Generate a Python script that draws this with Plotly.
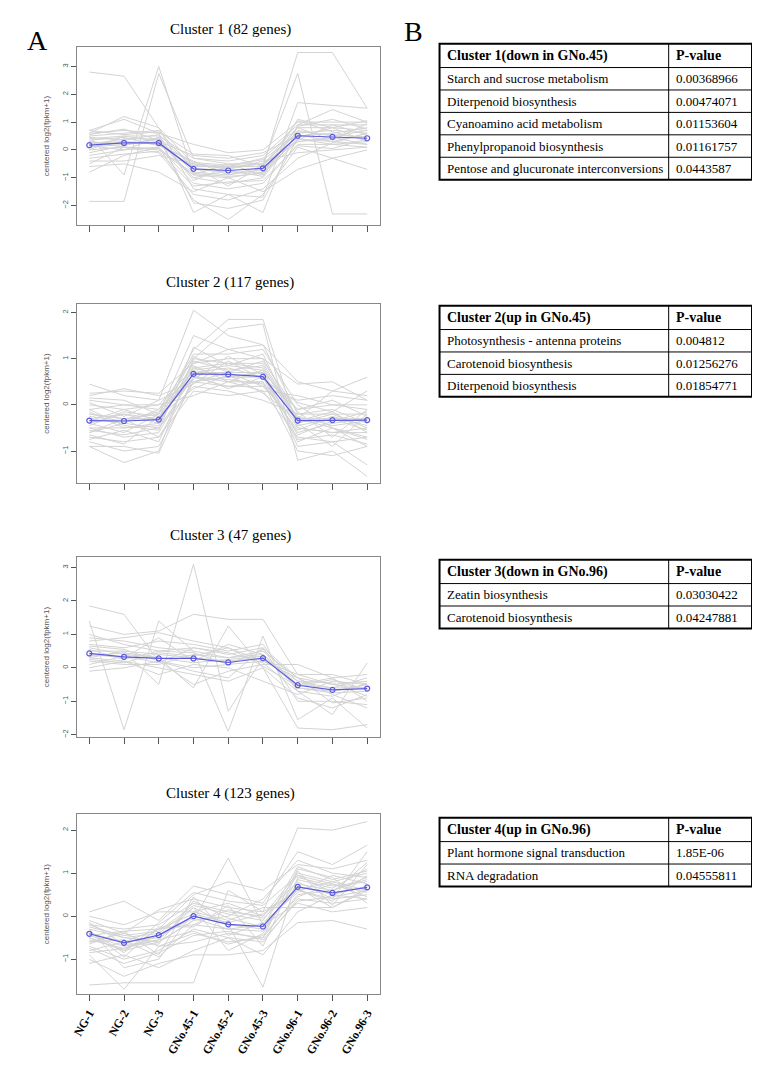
import plotly.graph_objects as go

W, H = 760, 1065
PAGE_MARGIN = 8  # default body margin of the html page

samples = ["NG-1", "NG-2", "NG-3", "GNo.45-1", "GNo.45-2", "GNo.45-3", "GNo.96-1", "GNo.96-2", "GNo.96-3"]

titles = ["Cluster 1 (82 genes)", "Cluster 2 (117 genes)", "Cluster 3 (47 genes)", "Cluster 4 (123 genes)"]

mean1 = [0.17, 0.25, 0.25, -0.68, -0.74, -0.66, 0.51, 0.47, 0.42]
mean2 = [-0.34, -0.35, -0.32, 0.67, 0.66, 0.61, -0.34, -0.33, -0.33]
mean3 = [0.43, 0.33, 0.28, 0.28, 0.16, 0.29, -0.52, -0.66, -0.62]
mean4 = [-0.41, -0.62, -0.44, 0.0, -0.19, -0.24, 0.68, 0.54, 0.67]

genes1 = [
    [2.8, 2.65, 0.8, -0.5, -0.6, -0.6, 0.8, 0.8, 0.7],
    [-1.85, -1.85, 2.75, -0.3, -0.5, -0.5, 0.3, 0.4, 0.5],
    [0.5, -0.9, 3.0, -0.9, -1.0, -0.8, 0.4, 0.3, 0.2],
    [0.3, 0.2, 0.4, -0.8, -0.9, -0.6, 3.5, 3.5, 1.5],
    [0.1, 0.3, 0.2, -0.6, -0.6, -0.5, 2.75, -2.3, -2.3],
    [0.6, 1.2, 0.8, -1.4, -1.6, -1.7, 1.7, 1.6, 1.5],
    [0.7, 1.1, 0.6, -2.25, -1.6, -2.25, 0.9, 1.45, 1.0],
    [-0.8, -0.2, 0.1, -1.8, -2.5, -1.6, 0.1, -0.3, -0.7],
    [0.0, 0.5, 0.3, -1.0, -1.2, -1.0, 0.6, 0.7, 0.6],
    [0.4, 0.5, 0.5, -0.3, -0.4, -0.2, 0.9, 0.9, 0.9],
    [-0.2, 0.0, 0.1, -1.2, -1.4, -1.2, 0.2, 0.2, 0.1],
    [0.6, 0.7, 0.6, 0.2, -0.1, 0.0, 1.0, 1.0, 1.0],
    [-0.4, -0.4, -0.2, -0.5, -0.7, -0.4, -0.1, 0.0, 0.1],
    [0.2, 0.4, 0.4, -1.9, -2.1, -1.8, 0.4, 0.2, 0.3],
    [0.5, 0.6, 0.7, -0.7, -0.8, -0.8, 0.7, 0.5, 0.7],
    [-0.6, -0.5, -0.8, -1.5, -1.0, -1.5, -0.7, -0.3, 0.0],
    [0.3, 0.1, 0.0, -0.9, -0.5, -0.9, 1.1, 0.8, 0.3],
    [0.1, 0.2, 0.3, -0.2, -0.3, -0.1, 0.5, 0.6, 0.8],
    [0.35, 0.45, 0.15, -0.4, -0.9, -0.7, 0.35, 0.9, 0.55],
    [-0.1, 0.15, 0.45, -1.1, -0.6, -0.3, 0.8, 0.35, 0.95],
    [0.45, 0.35, 0.55, -0.55, -0.65, -0.5, 0.65, 0.55, 0.45],
    [0.0, 0.1, 0.05, -0.85, -0.95, -0.85, 0.3, 0.45, 0.2],
    [0.25, 0.3, 0.2, -0.45, -0.55, -0.35, 0.55, 0.3, 0.6],
    [-0.3, -0.15, -0.05, -1.3, -1.15, -1.1, 0.15, 0.05, 0.4],
    [0.55, 0.75, 0.35, -1.0, -0.75, -0.95, 0.85, 1.1, 0.75],
    [0.15, 0.0, 0.45, -0.6, -1.3, -0.55, 0.45, 0.8, 1.05],
    [0.7, 0.55, 0.65, -0.15, -0.2, -0.6, 1.05, 0.65, 0.35],
    [-0.5, 0.1, -0.1, -1.6, -1.8, -1.4, -0.3, 0.25, 0.6],
]

genes2 = [
    [0.45, 0.2, 0.1, 2.05, 1.5, 1.3, 0.5, 0.3, 0.6],
    [-0.3, -0.2, -0.3, 1.2, 1.85, 1.85, -0.5, -0.6, -0.5],
    [-0.9, -1.25, -1.0, 1.0, 1.65, 1.75, -1.2, -1.0, -1.55],
    [-0.5, -0.5, -0.4, 0.9, 1.0, 1.0, -0.3, -0.3, -0.3],
    [-0.1, 0.0, -0.1, 0.7, 0.7, 0.7, -0.1, 0.0, 0.0],
    [0.2, 0.35, 0.2, 0.5, 0.4, 0.4, 0.1, 0.2, 0.1],
    [-0.7, -0.8, -0.7, 0.3, 0.2, 0.3, -0.7, -0.8, -0.7],
    [-0.4, -0.6, -0.2, 1.1, 1.1, 1.2, 0.0, -0.5, -0.9],
    [-0.2, -0.3, -0.3, 0.6, 0.5, 0.5, -0.6, -0.4, -0.3],
    [-0.6, -0.4, -0.5, 0.4, 0.3, 0.1, -0.2, -0.2, -0.2],
    [0.0, -0.1, 0.0, 0.8, 0.9, 0.8, -0.4, -0.2, -0.5],
    [-0.8, -1.0, -0.9, 0.5, 0.6, 0.7, -0.9, -0.8, -1.3],
    [-0.3, -0.4, -0.1, 1.0, 0.9, 0.9, -0.3, 0.3, 0.2],
    [0.1, 0.0, 0.0, 0.2, 0.5, 0.3, 0.2, 0.0, -0.1],
    [-0.5, -0.7, -0.6, 0.7, 0.8, 0.6, -0.5, -0.6, -0.6],
    [-0.9, -0.9, -1.05, 0.6, 0.4, 0.5, -1.0, -1.1, -0.9],
    [-0.2, -0.3, -0.2, 1.5, 1.2, 1.3, -0.2, -0.1, -0.4],
    [-0.4, -0.2, -0.4, 0.8, 0.6, 0.6, -0.8, -0.5, -0.7],
    [0.25, 0.3, 0.25, 0.9, 1.2, 1.0, 0.45, 0.5, 0.1],
    [-0.6, -0.3, -0.7, 0.5, 0.7, 0.4, -0.4, -0.9, -0.2],
    [-0.15, -0.5, -0.45, 0.95, 0.75, 0.85, -0.35, -0.15, -0.6],
    [-0.45, -0.15, -0.25, 0.55, 1.05, 0.65, -0.65, -0.35, -0.15],
    [-0.25, -0.35, -0.15, 0.75, 0.85, 0.75, -0.25, -0.45, -0.35],
    [-0.55, -0.65, -0.5, 0.6, 0.55, 0.45, -0.55, -0.25, -0.45],
    [-0.35, -0.1, -0.35, 1.05, 0.7, 0.95, -0.15, -0.7, -0.1],
    [0.05, -0.25, 0.1, 0.45, 0.95, 0.55, 0.05, -0.15, 0.3],
    [-0.75, -0.55, -0.8, 0.85, 0.5, 0.75, -0.75, -0.65, -0.85],
    [-0.1, -0.45, -0.55, 1.25, 0.85, 1.1, -0.45, -0.3, -0.55],
    [-0.65, -0.85, -0.25, 0.35, 0.65, 0.25, -0.3, -0.5, -0.75],
    [0.15, 0.1, -0.2, 0.65, 0.35, 0.6, -0.1, 0.1, -0.25],
]

genes3 = [
    [1.85, 1.6, 0.2, 0.0, 0.1, 0.2, -0.3, -0.8, -1.2],
    [1.4, -1.85, 1.4, 0.5, 0.3, 0.4, -0.6, -0.7, -0.5],
    [0.3, 0.5, -0.5, 3.1, -1.3, 0.3, -0.4, -0.6, -0.3],
    [1.25, 1.0, 1.1, 1.6, 1.45, 1.45, -0.2, -0.5, -0.6],
    [0.6, 0.4, 0.3, -0.6, 1.25, 0.0, -1.8, -1.85, -1.7],
    [0.9, 0.8, 0.6, 0.5, -1.9, 0.95, -1.55, -0.9, -1.8],
    [0.5, 0.5, 0.4, 0.3, 0.2, 0.3, -0.5, -0.6, -0.6],
    [0.2, 0.1, 0.1, 0.4, 0.3, 0.5, -0.3, -0.5, -0.4],
    [0.7, 0.6, 0.8, 0.7, 0.5, 0.7, -0.7, -1.4, 0.15],
    [-0.1, 0.0, 0.2, -0.5, -0.1, 0.1, 0.1, -0.3, -1.0],
    [1.0, 0.7, 0.5, 0.6, 0.4, 0.6, -1.0, -1.0, -1.1],
    [0.0, 0.2, -0.2, 0.1, 0.0, -0.4, -0.8, -0.4, -0.5],
    [0.4, 0.3, 0.9, 0.2, 0.7, 0.4, -0.5, -0.3, -0.2],
    [0.3, 0.2, 0.0, -0.2, -0.4, 0.0, -0.9, -1.2, -0.8],
    [0.8, 0.9, 1.05, 0.8, 0.6, 0.2, -0.2, -0.2, -0.5],
    [0.35, 0.45, 0.3, 0.15, 0.25, 0.35, -0.6, -0.75, -0.7],
    [0.55, 0.25, 0.5, 0.45, 0.1, 0.55, -0.4, -0.45, -0.85],
    [0.1, 0.35, 0.15, 0.6, 0.45, 0.15, -0.7, -0.85, -0.45],
    [0.65, 0.55, 0.2, -0.1, -0.3, 0.6, -0.3, -1.05, -0.9],
    [0.25, 0.15, 0.45, 0.35, 0.6, 0.05, -0.55, -0.35, -0.65],
]

genes4 = [
    [-1.6, -1.55, -1.55, -1.55, 0.6, 0.1, 2.05, 2.0, 2.2],
    [-0.5, -0.8, -0.6, -0.1, 1.35, -0.2, 0.6, 0.4, 0.5],
    [-0.3, -0.5, -0.4, 0.2, -0.2, -1.65, 0.9, 0.7, 0.8],
    [0.1, 0.35, -0.1, 0.7, 0.5, 0.3, 1.5, 1.2, 1.65],
    [-1.0, -1.4, -1.1, -0.9, -0.9, -0.8, -0.15, -0.1, -0.3],
    [-0.4, -0.6, -0.5, 0.0, -0.2, -0.3, 0.7, 0.5, 0.7],
    [-0.2, -0.3, -0.2, 0.3, 0.1, 0.0, 1.0, 0.8, 1.0],
    [-0.7, -1.0, -0.8, -0.3, -0.5, -0.6, 0.4, 0.3, 0.4],
    [-0.5, -0.8, -0.3, 0.5, 0.8, 0.6, 1.2, 1.1, 1.3],
    [0.0, -0.2, 0.1, 0.1, -0.1, 0.2, 0.2, 0.2, 0.6],
    [-0.9, -1.7, -0.7, -0.4, -0.6, -0.5, 0.5, 0.6, 0.9],
    [-0.6, -0.4, -0.7, -0.6, -0.4, -0.5, 1.1, 0.9, 0.3],
    [-0.3, -1.2, -1.0, 0.1, 0.3, 0.0, 0.8, 0.4, 1.5],
    [-0.8, -0.6, -0.3, -0.2, -0.3, -0.2, 0.3, 0.1, 0.2],
    [-0.1, -0.4, 0.15, 0.4, 0.2, 0.1, 0.6, 0.8, 0.6],
    [-0.45, -0.7, -0.55, 0.2, -0.8, -0.4, 0.85, 0.65, 1.1],
    [-1.1, -0.9, -1.2, -0.8, -0.5, -0.9, 0.1, 0.5, 0.4],
    [-0.2, -0.5, -0.6, -0.1, 0.0, 0.4, 1.3, 1.0, 0.9],
    [-0.65, -0.35, -0.9, 0.45, -0.45, -0.15, 0.55, 0.95, 0.75],
    [-0.35, -0.95, -0.25, -0.25, 0.25, -0.7, 1.05, 0.25, 1.2],
    [-0.55, -0.75, -0.45, -0.05, -0.3, -0.35, 0.75, 0.6, 0.85],
    [-0.25, -0.45, -0.35, 0.25, 0.05, -0.1, 0.95, 0.75, 0.55],
    [-0.75, -1.1, -0.85, -0.45, -0.35, -0.55, 0.35, 0.45, 0.6],
    [-0.45, -0.35, -0.3, 0.05, -0.15, 0.05, 0.6, 0.35, 0.95],
    [-0.15, -0.65, -0.65, 0.35, -0.05, -0.25, 1.15, 0.85, 1.05],
    [-0.85, -0.75, -0.55, -0.35, -0.65, -0.45, 0.45, 0.75, 0.45],
    [-0.35, -0.85, -0.15, 0.55, 0.35, 0.25, 0.95, 0.55, 1.25],
    [-0.6, -0.55, -0.95, -0.2, 0.15, -0.05, 0.65, 0.2, 0.65],
]

table_headers = [
    ["Cluster 1(down in GNo.45)", "P-value"],
    ["Cluster 2(up in GNo.45)", "P-value"],
    ["Cluster 3(down in GNo.96)", "P-value"],
    ["Cluster 4(up in GNo.96)", "P-value"],
]
pathways1 = ["Starch and sucrose metabolism", "Diterpenoid biosynthesis", "Cyanoamino acid metabolism",
             "Phenylpropanoid biosynthesis", "Pentose and glucuronate interconversions"]
pvals1 = ["0.00368966", "0.00474071", "0.01153604", "0.01161757", "0.0443587"]
pathways2 = ["Photosynthesis - antenna proteins", "Carotenoid biosynthesis", "Diterpenoid biosynthesis"]
pvals2 = ["0.004812", "0.01256276", "0.01854771"]
pathways3 = ["Zeatin biosynthesis", "Carotenoid biosynthesis"]
pvals3 = ["0.03030422", "0.04247881"]
pathways4 = ["Plant hormone signal transduction", "RNA degradation"]
pvals4 = ["1.85E-06", "0.04555811"]

means = [mean1, mean2, mean3, mean4]
genes = [genes1, genes2, genes3, genes4]
pathways = [pathways1, pathways2, pathways3, pathways4]
pvals = [pvals1, pvals2, pvals3, pvals4]

# ---- layout geometry (screen pixels) ----
frames = [(47, 227), (306, 487), (561, 743), (820, 1002)]
yranges = [(-2.71, 3.71), (-1.70, 2.19), (-2.08, 3.32), (-1.82, 2.38)]
ytickvals = [[-2, -1, 0, 1, 2, 3], [-1, 0, 1, 2], [-2, -1, 0, 1, 2, 3], [-1, 0, 1, 2]]
title_y = [30, 285, 540, 800]
table_tops = [44, 308, 564, 824]
X0, X1 = 72, 377
TX0, TXS, TX1 = 437, 668, 752
HEAD = 24
ROW = 22.6

FW, FH = W - 2 * PAGE_MARGIN, H - 2 * PAGE_MARGIN

def fx(px):
    return (px - PAGE_MARGIN) / FW

def fy(py):
    return 1 - (py - PAGE_MARGIN) / FH

SERIF = "Liberation Serif, Times New Roman, serif"
SANS = "Liberation Sans, Arial, sans-serif"
GRAY = "#d3d3d3"
BLUE = "#5a5ae0"

fig = go.Figure()
layout = dict(width=FW, height=FH, margin=dict(l=0, r=0, t=0, b=0),
              paper_bgcolor="white", plot_bgcolor="white", showlegend=False)
annotations = []
shapes = []
xs = list(range(1, 10))

for i in range(4):
    k = "" if i == 0 else str(i + 1)
    xa, ya = "x" + k, "y" + k
    for g in genes[i]:
        fig.add_trace(go.Scatter(x=xs, y=g, mode="lines", xaxis=xa, yaxis=ya,
                                 line=dict(color=GRAY, width=1), hoverinfo="skip"))
    fig.add_trace(go.Scatter(x=xs, y=means[i], mode="lines+markers", xaxis=xa, yaxis=ya,
                             line=dict(color=BLUE, width=1.2),
                             marker=dict(symbol="circle-open", size=5, color=BLUE, line=dict(width=1.2))))
    top, bot = frames[i]
    layout["xaxis" + k] = dict(domain=[fx(X0), fx(X1)], range=[0.66, 9.37], anchor=ya,
                               tickmode="array", tickvals=xs, ticktext=samples,
                               showticklabels=(i == 3), tickangle=-60,
                               tickfont=dict(family=SERIF, size=12, color="black", weight="bold"),
                               ticks="outside", ticklen=6, tickcolor="#555", tickwidth=1,
                               showline=True, linecolor="#888", linewidth=1, mirror=True,
                               showgrid=False, zeroline=False, fixedrange=True)
    layout["yaxis" + k] = dict(domain=[fy(bot), fy(top)], range=list(yranges[i]), anchor=xa,
                               tickmode="array", tickvals=ytickvals[i], tickangle=-90,
                               tickfont=dict(family=SANS, size=7.5, color="#555"),
                               ticks="outside", ticklen=5, tickcolor="#555", tickwidth=1,
                               showline=True, linecolor="#888", linewidth=1, mirror=True,
                               showgrid=False, zeroline=False,
                               title=dict(text="centered log2(fpkm+1)", standoff=10,
                                          font=dict(family=SANS, size=8, color="#555")))
    annotations.append(dict(text=titles[i], x=fx(226), y=fy(title_y[i]), xref="paper", yref="paper",
                            showarrow=False, xanchor="center", yanchor="middle",
                            font=dict(family=SERIF, size=15, color="black")))

    # ---- enrichment table drawn with shapes and text ----
    t0 = table_tops[i]
    n = len(pathways[i])
    t1 = t0 + HEAD + n * ROW
    bounds = [t0 + HEAD + r * ROW for r in range(n)]
    for yb in bounds:
        shapes.append(dict(type="line", xref="paper", yref="paper", x0=fx(TX0), x1=fx(TX1),
                           y0=fy(yb), y1=fy(yb), line=dict(color="black", width=1)))
    shapes.append(dict(type="line", xref="paper", yref="paper", x0=fx(TXS), x1=fx(TXS),
                       y0=fy(t0), y1=fy(t1), line=dict(color="black", width=1)))
    shapes.append(dict(type="rect", xref="paper", yref="paper", x0=fx(TX0), x1=fx(TX1),
                       y0=fy(t1), y1=fy(t0), line=dict(color="black", width=2)))
    hy = t0 + HEAD / 2
    annotations.append(dict(text=table_headers[i][0], x=fx(TX0 + 5), y=fy(hy), xref="paper", yref="paper",
                            showarrow=False, xanchor="left", yanchor="middle",
                            font=dict(family=SERIF, size=14, color="black", weight="bold")))
    annotations.append(dict(text=table_headers[i][1], x=fx(TXS + 5), y=fy(hy), xref="paper", yref="paper",
                            showarrow=False, xanchor="left", yanchor="middle",
                            font=dict(family=SERIF, size=14, color="black", weight="bold")))
    for r in range(n):
        ry = t0 + HEAD + r * ROW + ROW / 2
        annotations.append(dict(text=pathways[i][r], x=fx(TX0 + 5), y=fy(ry), xref="paper", yref="paper",
                                showarrow=False, xanchor="left", yanchor="middle",
                                font=dict(family=SERIF, size=13, color="black")))
        annotations.append(dict(text=pvals[i][r], x=fx(TXS + 5), y=fy(ry), xref="paper", yref="paper",
                                showarrow=False, xanchor="left", yanchor="middle",
                                font=dict(family=SERIF, size=13, color="black")))

annotations.append(dict(text="A", x=fx(32), y=fy(41), xref="paper", yref="paper", showarrow=False,
                        xanchor="center", yanchor="middle", font=dict(family=SERIF, size=28, color="black")))
annotations.append(dict(text="B", x=fx(411), y=fy(32), xref="paper", yref="paper", showarrow=False,
                        xanchor="center", yanchor="middle", font=dict(family=SERIF, size=28, color="black")))

layout["annotations"] = annotations
layout["shapes"] = shapes
fig.update_layout(**layout)
fig.write_html("out.html")
